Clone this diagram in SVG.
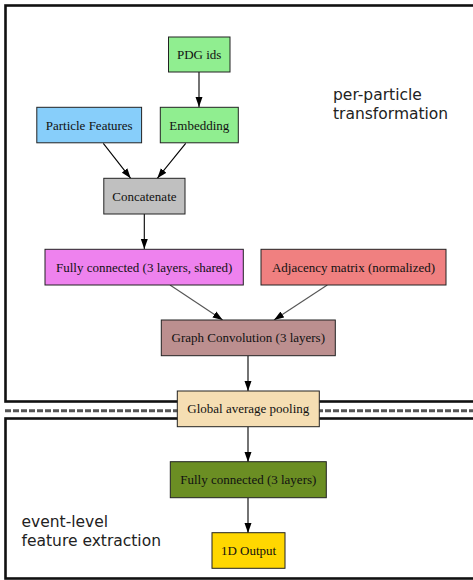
<svg xmlns="http://www.w3.org/2000/svg" width="473" height="580" viewBox="0 0 473 580">
<style>
.frame{fill:none;stroke:#111;stroke-width:2.6}
.node rect{stroke:#222;stroke-width:1}
.node text{font-family:"Liberation Serif","Times New Roman",serif;font-size:13px;fill:#111;text-anchor:middle}
.lbl{font-family:"DejaVu Sans",sans-serif;font-size:15.5px;fill:#222}
.edge{stroke:#000;stroke-width:1.1;fill:none;marker-end:url(#ah)}
.edge.g{stroke:#555}
</style>
<defs>
<marker id="ah" markerWidth="10" markerHeight="8" refX="10" refY="4" orient="auto" markerUnits="userSpaceOnUse">
<path d="M0,0.5 L10,4 L0,7.5 Z" fill="#000"/>
</marker>
</defs>
<rect width="473" height="580" fill="#fff"/>
<g id="frames">
<rect class="frame" x="5.5" y="5.5" width="480" height="396"/>
<rect class="frame" x="5.5" y="418.5" width="480" height="160"/>
<line x1="5" y1="410.8" x2="473" y2="410.8" stroke="#555" stroke-width="3" stroke-dasharray="6 2"/>
</g>
<text class="lbl" x="333" y="100">per-particle</text>
<text class="lbl" x="333" y="118.5">transformation</text>
<text class="lbl" x="21.5" y="527">event-level</text>
<text class="lbl" x="21.5" y="546">feature extraction</text>
<g id="connectors">
<line class="edge" x1="199" y1="72" x2="199" y2="107"/>
<line class="edge" x1="103.3" y1="143.3" x2="130.7" y2="178.3"/>
<line class="edge" x1="185.7" y1="143.3" x2="157.3" y2="178.3"/>
<line class="edge" x1="144.3" y1="214" x2="144.3" y2="249"/>
<line class="edge g" x1="170" y1="285" x2="222.7" y2="320"/>
<line class="edge g" x1="327.3" y1="285" x2="274" y2="320"/>
<line class="edge" x1="248" y1="356" x2="248" y2="391"/>
<line class="edge" x1="248" y1="427" x2="248" y2="462"/>
<line class="edge" x1="248" y1="498" x2="248" y2="533"/>
</g>
<g id="pdg" class="node"><rect x="168.5" y="37" width="61.5" height="35" fill="#90EE90"/><text x="199.2" y="59">PDG ids</text></g>
<g id="embedding" class="node"><rect x="160.3" y="107.3" width="78" height="35.5" fill="#90EE90"/><text x="199.3" y="129.5">Embedding</text></g>
<g id="particle" class="node"><rect x="36.8" y="107.3" width="104.8" height="35.5" fill="#87CEFA"/><text x="89.2" y="129.5">Particle Features</text></g>
<g id="concat" class="node"><rect x="103.8" y="178.3" width="81.2" height="35.7" fill="#C0C0C0"/><text x="144.4" y="200.5">Concatenate</text></g>
<g id="fcshared" class="node"><rect x="45" y="249.3" width="198.3" height="35.7" fill="#EE82EE"/><text x="144.2" y="271.5">Fully connected (3 layers, shared)</text></g>
<g id="adj" class="node"><rect x="261" y="249.3" width="185" height="35.7" fill="#F08080"/><text x="353.5" y="271.5">Adjacency matrix (normalized)</text></g>
<g id="gconv" class="node"><rect x="161.3" y="320" width="174" height="35.7" fill="#BC8F8F"/><text x="248.3" y="342.3">Graph Convolution (3 layers)</text></g>
<g id="gap" class="node"><rect x="177.3" y="391" width="142" height="35.7" fill="#F5DEB3"/><text x="248.3" y="413.3">Global average pooling</text></g>
<g id="fc3" class="node"><rect x="170.3" y="461.7" width="156" height="36" fill="#6B8E23"/><text x="248.3" y="484">Fully connected (3 layers)</text></g>
<g id="out" class="node"><rect x="212" y="532.7" width="73" height="35.6" fill="#FFD700"/><text x="248.5" y="555">1D Output</text></g>
</svg>
